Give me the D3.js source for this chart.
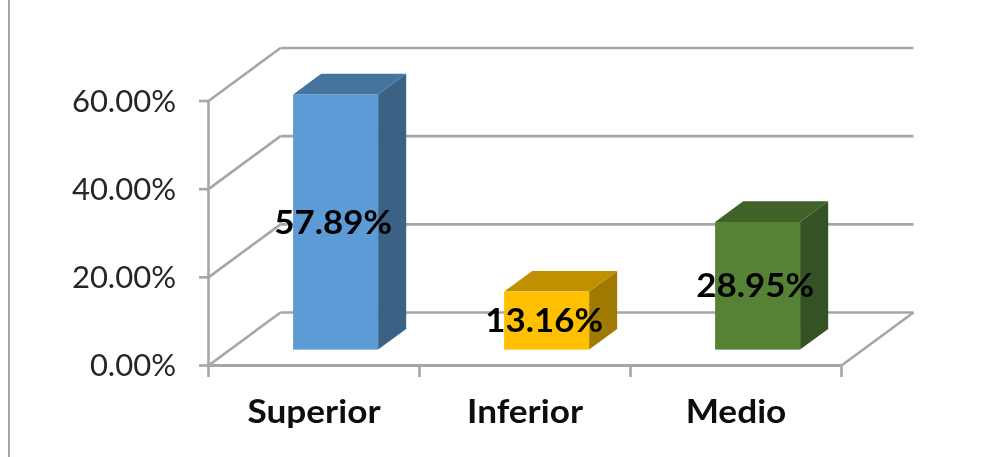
<!DOCTYPE html>
<html><head><meta charset="utf-8">
<script src="https://cdn.jsdelivr.net/npm/d3@7"></script>
<style>html,body{margin:0;padding:0;background:#fff}svg{display:block}text{font-family:Lato,"Open Sans",sans-serif}</style>
</head><body><div id="chart"></div>
<script>
const categories = ["Superior", "Inferior", "Medio"];
const values = [57.89, 13.16, 28.95];
const labels = ["57.89%", "13.16%", "28.95%"];
const frontColors = ["#5b9bd5", "#ffc000", "#548235"];
const topColors = ["#44749f", "#c09000", "#3f6228"];
const sideColors = ["#3a6285", "#a07a00", "#355322"];
const yTicks = [0, 20, 40, 60];
const yTickLabels = ["0.00%", "20.00%", "40.00%", "60.00%"];

const W = 987, H = 457;
const svg = d3.select("#chart").append("svg").attr("width", W).attr("height", H);
const defs = svg.append("defs");
defs.append("filter").attr("id", "soft").append("feGaussianBlur").attr("stdDeviation", 0.5);
const root = svg.append("g").attr("filter", "url(#soft)");

const x = d3.scaleBand().domain(categories).range([208.5, 841.5]).paddingInner(0).paddingOuter(0);
const y = d3.scaleLinear().domain([0, 60]).range([365.5, 101]);
const DX = 72, DY = -53;
const px = (v, d) => v + DX * d, py = (v, d) => v + DY * d;
const grey = "#a6a6a6";
const line = (a, b, c, e, w = 2.6) => root.append("line").attr("x1", a).attr("y1", b).attr("x2", c).attr("y2", e)
  .attr("stroke", grey).attr("stroke-width", w);
// widen text to the reference's proportions
const stretch = (sel, k) => sel.each(function () {
  this.setAttribute("lengthAdjust", "spacingAndGlyphs");
  this.setAttribute("textLength", this.getComputedTextLength() * k);
});

line(9, 0, 9, H, 2);

yTicks.forEach(t => {
  const v = y(t);
  line(px(x.range()[1], 1), py(v, 1), px(x.range()[0], 1), py(v, 1));
  line(x.range()[0], v, px(x.range()[0], 1), py(v, 1));
  line(199, v, x.range()[0], v);
});
line(x.range()[0], y(0), x.range()[0], y(60));

line(x.range()[0], y(0), x.range()[1], y(0), 3);
line(x.range()[1], y(0), px(x.range()[1], 1), py(y(0), 1));
[...categories.map(c => x(c)), x.range()[1]].forEach(v => line(v, y(0), v, 377));

const d0 = 0.3, d1 = 0.69, barW = 85;
const h = v => y(0) - y(v);
const gBars = root.append("g").selectAll("g").data(categories).join("g");
gBars.each(function (c, i) {
  const g = d3.select(this);
  const xl = px(x(c) + (x.bandwidth() - barW) / 2, d0), xr = xl + barW;
  const base = py(y(0), d0), top = base - h(values[i]);
  const dx = DX * (d1 - d0), dy = DY * (d1 - d0);
  const poly = (pts, col) => g.append("polygon").attr("points", pts.map(p => p.join(",")).join(" ")).attr("fill", col);
  poly([[xr, base], [xr + dx, base + dy], [xr + dx, top + dy], [xr, top]], sideColors[i]);
  poly([[xl, top], [xr, top], [xr + dx, top + dy], [xl + dx, top + dy]], topColors[i]);
  g.append("rect").attr("x", xl).attr("y", top).attr("width", barW).attr("height", base - top).attr("fill", frontColors[i]);
  g.append("text").attr("x", (xl + xr) / 2 - 2.5).attr("y", (top + base) / 2 + 11.5)
    .attr("text-anchor", "middle").attr("font-size", 32).attr("font-weight", 700).attr("fill", "#000").text(labels[i])
    .call(stretch, 1.09);
});

yTicks.forEach((t, i) => root.append("text").attr("x", 176).attr("y", y(t) + 10.5).attr("text-anchor", "end")
  .attr("font-size", 31).attr("fill", "#262626").text(yTickLabels[i]));
categories.forEach(c => root.append("text").attr("x", x(c) + x.bandwidth() / 2).attr("y", 423).attr("text-anchor", "middle")
  .attr("font-size", 32).attr("font-weight", 700).attr("fill", "#111").text(c)
  .call(stretch, 1.1));
</script></body></html>
